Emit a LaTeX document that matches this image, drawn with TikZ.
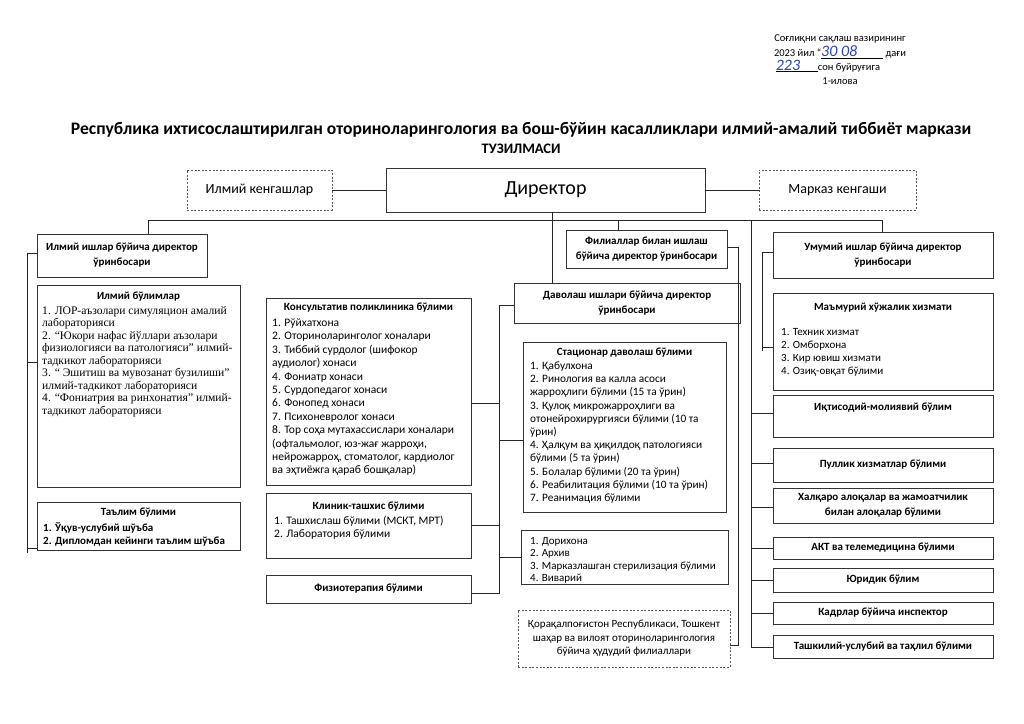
\documentclass[tikz,border=0pt]{standalone}
\usepackage{fontspec}
\setmainfont{Carlito}
\newfontfamily\timesfont{Liberation Serif}
\usetikzlibrary{positioning}
\definecolor{ink}{RGB}{45,70,175}

\begin{document}
\begin{tikzpicture}[x=1pt, y=-1pt,
	box/.style={draw=black!80, line width=0.8pt, inner sep=2pt},
	dashbox/.style={draw=black!65, dash pattern=on 2pt off 1.6pt, line width=0.8pt, inner sep=2pt},
	head/.style={font=\bfseries\fontsize{11}{15}\selectfont, align=center},
	plain/.style={font=\fontsize{11.5}{13.4}\selectfont, align=left, inner sep=0pt, anchor=north west},
	conn/.style={draw=black!85, line width=0.7pt}]

	\fill[white] (0,0) rectangle (1024,723);

	% header
	\node[font=\fontsize{10.5}{14}\selectfont] (ord1) at (840,39) {Соғлиқни сақлаш вазирининг};
	\node[font=\fontsize{10.5}{14}\selectfont] (ord2) at (840,52) {2023 йил “\underline{\makebox[62pt][l]{\textcolor{ink}{\fontsize{16}{16}\selectfont\itshape 30 08}}} дағи};
	\node[font=\fontsize{10.5}{14}\selectfont] (ord3) at (828,66) {\underline{\makebox[42pt][l]{\textcolor{ink}{\fontsize{16}{16}\selectfont\itshape 223}}}сон буйруғига};
	\node[font=\fontsize{10.5}{14}\selectfont] (ord4) at (840,81) {1-илова};

	\node[font=\bfseries\fontsize{17.6}{20}\selectfont] (title) at (521,130) {Республика ихтисослаштирилган оториноларингология ва бош-бўйин касалликлари илмий-амалий тиббиёт маркази};
	\node[font=\bfseries\fontsize{14.5}{16}\selectfont] (title2) at (521,149) {ТУЗИЛМАСИ};

	% top row
	\node[dashbox, minimum width=145pt, minimum height=40pt, font=\fontsize{14}{15}\selectfont] (ilmkeng) at (259.5,190) {Илмий кенгашлар};
	\node[box, minimum width=319pt, minimum height=44pt, font=\fontsize{20}{22}\selectfont] (dir) at (545.5,190) {Директор};
	\node[dashbox, minimum width=157pt, minimum height=40pt, font=\fontsize{14}{15}\selectfont] (markaz) at (837.5,190) {Марказ кенгаши};

	\draw[conn] (ilmkeng.east) -- (dir.west);
	\draw[conn] (dir.east) -- (markaz.west);

	% deputies
	\node[box, head, minimum width=170pt, minimum height=43pt] (ilmdep) at (122,255.5) {Илмий ишлар бўйича директор\\ўринбосари};
	\node[box, head, minimum width=161pt, minimum height=38pt] (filial) at (646.5,249) {Филиаллар билан ишлаш\\бўйича директор ўринбосари};
	\node[box, head, minimum width=226pt, minimum height=40pt] (davol) at (627,303) {Даволаш ишлари бўйича директор\\ўринбосари};
	\node[box, head, minimum width=220pt, minimum height=46pt] (umumiy) at (883,255) {Умумий ишлар бўйича директор\\ўринбосари};

	% left column
	\node[box, minimum width=203pt, minimum height=202pt] (ilmbol) at (138.5,386) {};
	\node[head] (ilmbolT) at (138.5,297) {Илмий бўлимлар};
	\node[plain, font=\timesfont\fontsize{11.6}{12.5}\selectfont] (ilmbolL) at (42,306) {1. ЛОР-аъзолари симуляцион амалий\\лабораторияси\\2. “Юкори нафас йўллари аъзолари\\физиологияси ва патологияси” илмий-\\тадкикот лабораторияси\\3. “ Эшитиш ва мувозанат бузилиши”\\илмий-тадкикот лабораторияси\\4. “Фониатрия ва ринхонатия” илмий-\\тадкикот лабораторияси};

	\node[box, minimum width=203pt, minimum height=48pt] (talim) at (138.5,526) {};
	\node[head] (talimT) at (138.5,513) {Таълим бўлими};
	\node[plain, font=\bfseries\fontsize{11}{13.4}\selectfont] (talimL) at (43,522) {1. Ўқув-услубий шўъба\\2. Дипломдан кейинги таълим шўъба};

	% middle left column
	\node[box, minimum width=205pt, minimum height=187pt] (konsult) at (368.5,391.5) {};
	\node[head] (konsultT) at (368.5,308) {Консультатив поликлиника бўлими};
	\node[plain] (konsultL) at (272,318.5) {1. Рўйхатхона\\2. Оториноларинголог хоналари\\3. Тиббий сурдолог (шифокор\\аудиолог) хонаси\\4. Фониатр хонаси\\5. Сурдопедагог хонаси\\6. Фонопед хонаси\\7. Психоневролог хонаси\\8. Тор соҳа мутахассислари хоналари\\(офтальмолог, юз-жағ жарроҳи,\\нейрожарроҳ, стоматолог, кардиолог\\ва эҳтиёжга қараб бошқалар)};

	\node[box, minimum width=205pt, minimum height=65pt] (klinik) at (368.5,525.5) {};
	\node[head] (klinikT) at (368.5,507) {Клиник-ташхис бўлими};
	\node[plain] (klinikL) at (274,515.5) {1. Ташхислаш бўлими (МСКТ, МРТ)\\2. Лаборатория бўлими};

	\node[box, head, minimum width=205pt, minimum height=28pt] (fizio) at (368.5,589) {Физиотерапия бўлими};

	% middle right column
	\node[box, minimum width=203pt, minimum height=170pt] (statsion) at (624.5,427) {};
	\node[head] (statsionT) at (624.5,353) {Стационар даволаш бўлими};
	\node[plain, font=\fontsize{11.3}{13.2}\selectfont] (statsionL) at (530,361.5) {1. Қабулхона\\2. Ринология ва калла асоси\\жарроҳлиги бўлими (15 та ўрин)\\3. Қулоқ микрожарроҳлиги ва\\отонейрохирургияси бўлими (10 та\\ўрин)\\4. Ҳалқум ва ҳиқилдоқ патологияси\\бўлими (5 та ўрин)\\5. Болалар бўлими (20 та ўрин)\\6. Реабилитация бўлими (10 та ўрин)\\7. Реанимация бўлими};

	\node[box, minimum width=207pt, minimum height=54pt] (dori) at (624.5,557) {};
	\node[plain, font=\fontsize{11}{12.5}\selectfont] (doriL) at (530,537) {1. Дорихона\\2. Архив\\3. Марказлашган стерилизация бўлими\\4. Виварий};

	\node[dashbox, align=center, minimum width=212pt, minimum height=57pt, font=\fontsize{11}{13.5}\selectfont] (hudud) at (624,638.5) {Қорақалпоғистон Республикаси, Тошкент\\шаҳар ва вилоят оториноларингология\\бўйича ҳудудий филиаллари};

	% right column
	\node[box, minimum width=220pt, minimum height=97pt] (mamur) at (883,341.5) {};
	\node[head] (mamurT) at (883,308) {Маъмурий хўжалик хизмати};
	\node[plain, font=\fontsize{11}{13}\selectfont] (mamurL) at (781,328.5) {1. Техник хизмат\\2. Омборхона\\3. Кир ювиш хизмати\\4. Озиқ-овқат бўлими};

	\node[box, minimum width=220pt, minimum height=42pt] (iqtis) at (883,416) {};
	\node[head] (iqtisT) at (883,408) {Иқтисодий-молиявий бўлим};
	\node[box, head, minimum width=220pt, minimum height=34pt] (pullik) at (883,465) {Пуллик хизматлар бўлими};
	\node[box, head, minimum width=220pt, minimum height=35pt] (xalq) at (883,505.5) {Халқаро алоқалар ва жамоатчилик\\билан алоқалар бўлими};
	\node[box, head, minimum width=220pt, minimum height=22pt] (akt) at (883,548) {АКТ ва телемедицина бўлими};
	\node[box, head, minimum width=220pt, minimum height=24pt] (yurid) at (883,580) {Юридик бўлим};
	\node[box, head, minimum width=220pt, minimum height=22pt] (kadr) at (883,613) {Кадрлар бўйича инспектор};
	\node[box, head, minimum width=220pt, minimum height=23pt] (tashk) at (883,646.5) {Ташкилий-услубий ва таҳлил бўлими};

	% bus from the director
	\coordinate (busL) at (148,220);
	\coordinate (busR) at (882,220);
	\coordinate (dirx) at (552,0);
	\draw[conn] (busL) -- (busR);
	\draw[conn] (busL) -- (busL |- ilmdep.north);
	\draw[conn] (busR) -- (busR |- umumiy.north);
	\draw[conn] (dir.south -| dirx) -- (davol.north -| dirx);
	\draw[conn] (618,220) -- (filial.north -| 618,0);

	% left branch
	\coordinate (sL1) at (27,253);
	\coordinate (sL2) at (27,362);
	\coordinate (sL3) at (27,548);
	\draw[conn] (sL1 -| ilmdep.west) -- (sL1) -- (27,553);
	\draw[conn] (sL2) -- (sL2 -| ilmbol.west);
	\draw[conn] (sL3) -- (sL3 -| talim.west);

	% treatment branch
	\coordinate (sM1) at (499,305);
	\coordinate (sM2) at (499,403);
	\coordinate (sM3) at (499,440);
	\coordinate (sM4) at (499,525);
	\coordinate (sM5) at (499,557);
	\coordinate (sM6) at (499,593);
	\draw[conn] (sM1 -| davol.west) -- (sM1) -- (sM6) -- (sM6 -| fizio.east);
	\draw[conn] (sM2) -- (sM2 -| konsult.east);
	\draw[conn] (sM3) -- (sM3 -| statsion.west);
	\draw[conn] (sM4) -- (sM4 -| klinik.east);
	\draw[conn] (sM5) -- (sM5 -| dori.west);

	% branches
	\coordinate (sF1) at (738,247);
	\coordinate (sF2) at (738,645);
	\draw[conn] (sF1 -| filial.east) -- (sF1) -- (sF2) -- (sF2 -| hudud.east);

	% general affairs
	\coordinate (sU1) at (762,252);
	\coordinate (sU2) at (762,347);
	\draw[conn] (sU1 -| umumiy.west) -- (sU1) -- (762,351);
	\draw[conn] (sU2) -- (sU2 -| mamur.west);

	\coordinate (sR) at (751,220);
	\draw[conn] (sR) -- (751,647);
	\foreach \yy/\nn in {413/iqtis, 463/pullik, 507/xalq, 548/akt, 580/yurid, 613/kadr, 647/tashk}
		\draw[conn] (751,\yy) -- (\nn.west |- 0,\yy);

\end{tikzpicture}
\end{document}
